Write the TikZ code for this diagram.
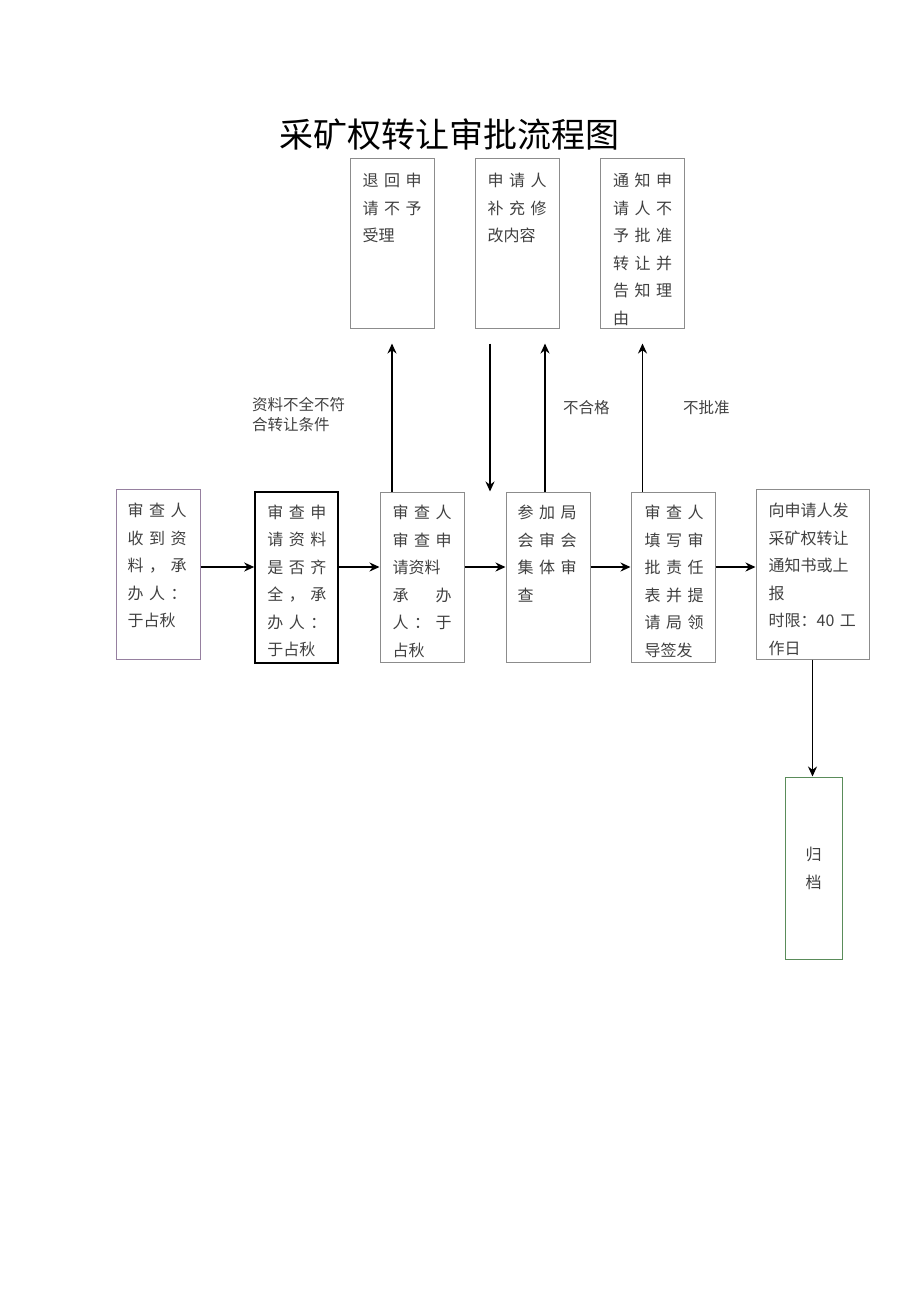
\documentclass[tikz,border=0pt]{standalone}
\usepackage{fontspec}
\setmainfont{Noto Sans CJK SC}
\usepackage{tikz}
\usetikzlibrary{arrows.meta}
\definecolor{txt}{gray}{0.25}
\definecolor{frm}{gray}{0.55}
\definecolor{frmp}{RGB}{150,128,160}
\definecolor{frmg}{RGB}{90,140,90}
\newcommand{\tri}[3]{\makebox[\linewidth]{#1\hfill#2\hfill#3}}

\begin{document}
\begin{tikzpicture}[x=1pt,y=-1pt,
  box/.style={draw=frm, line width=1pt, minimum width=84pt, minimum height=170pt, inner sep=0pt},
  txt/.style={anchor=base west, text width=59pt, align=left, inner sep=0pt, text=txt, font=\fontsize{16}{27.5}\selectfont},
  lab/.style={anchor=west, align=left, inner sep=0pt, text=txt, font=\fontsize{15.5}{20}\selectfont},
  arr/.style={line width=1.7pt, -{Stealth[length=10pt,width=9pt]}}]
\useasboundingbox (0,0) rectangle (920,1301);
\node[font=\fontsize{34}{34}\selectfont] (title) at (449.5,135) {采矿权转让审批流程图};
% upper row
\foreach \n/\x in {1/392, 2/517, 3/642.5}
  \node[box] (r\n) at (\x,243) {};
\node[txt] (s1) at ([xshift=13pt,yshift=-29pt]r1.north west) {\tri{退}{回}{申}\\\tri{请}{不}{予}\\受理};
\node[txt] (s2) at ([xshift=13pt,yshift=-29pt]r2.north west) {\tri{申}{请}{人}\\\tri{补}{充}{修}\\改内容};
\node[txt] (s3) at ([xshift=13pt,yshift=-29pt]r3.north west) {\tri{通}{知}{申}\\\tri{请}{人}{不}\\\tri{予}{批}{准}\\\tri{转}{让}{并}\\\tri{告}{知}{理}\\由};
% lower row
\node[box, draw=frmp] (b1) at (158,574) {};
\node[box, draw=black, line width=1.6pt, minimum width=83pt, minimum height=171pt] (b2) at (296.5,577.5) {};
\node[box] (b3) at (422,577) {};
\node[box] (b4) at (548,577) {};
\node[box] (b5) at (673,577) {};
\node[box, minimum width=113pt] (b6) at (812.5,574) {};
\node[txt] (t1) at ([xshift=12pt,yshift=-28pt]b1.north west) {\tri{审}{查}{人}\\\tri{收}{到}{资}\\\tri{料}{，}{承}\\\tri{办}{人}{：}\\于占秋};
\node[txt] (t2) at ([xshift=13pt,yshift=-27pt]b2.north west) {\tri{审}{查}{申}\\\tri{请}{资}{料}\\\tri{是}{否}{齐}\\\tri{全}{，}{承}\\\tri{办}{人}{：}\\于占秋};
\node[txt] (t3) at ([xshift=13pt,yshift=-27pt]b3.north west) {\tri{审}{查}{人}\\\tri{审}{查}{申}\\请资料\\\tri{承}{}{办}\\\tri{人}{：}{于}\\占秋};
\node[txt] (t4) at ([xshift=12pt,yshift=-27pt]b4.north west) {\tri{参}{加}{局}\\\tri{会}{审}{会}\\\tri{集}{体}{审}\\查};
\node[txt] (t5) at ([xshift=14pt,yshift=-27pt]b5.north west) {\tri{审}{查}{人}\\\tri{填}{写}{审}\\\tri{批}{责}{任}\\\tri{表}{并}{提}\\\tri{请}{局}{领}\\导签发};
\node[txt, text width=90pt] (t6) at ([xshift=13pt,yshift=-28pt]b6.north west) {向申请人发\\采矿权转让\\通知书或上\\报\\时限：40 工\\作日};
\node[box, draw=frmg, minimum width=57pt, minimum height=182pt, text=txt, align=center, font=\fontsize{16}{28}\selectfont] (a1) at (813.5,868) {归\\档};
% arrows
\coordinate (row) at (0,567);
\foreach \a/\b in {b1/b2, b2/b3, b3/b4, b4/b5, b5/b6}
  \draw[arr] (\a.east |- row) -- (\b.west |- row);
\coordinate (r2d) at ([xshift=-27pt]r2.south);
\coordinate (r2u) at ([xshift=28pt]r2.south);
\draw[arr, shorten >=15pt] (r1 |- b3.north) -- (r1.south);
\draw[arr, shorten <=15pt] (r2d) -- (r2d |- b4.north);
\draw[arr, shorten >=15pt] (r2u |- b4.north) -- (r2u);
\draw[arr, shorten >=15pt] (r3 |- b5.north) -- (r3.south);
\draw[arr] (b6.south) -- (b6.south |- a1.north);
% labels
\node[lab] (l1) at (252,415) {资料不全不符\\合转让条件};
\node[lab] (l2) at (563,408) {不合格};
\node[lab] (l3) at (683,408) {不批准};
\end{tikzpicture}
\end{document}
